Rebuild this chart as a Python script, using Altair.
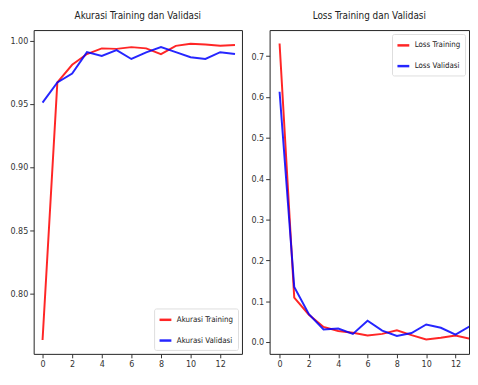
import altair as alt
import pandas as pd

epochs = list(range(14))
acc_train = [0.763, 0.967, 0.981, 0.9895, 0.994, 0.9936, 0.995, 0.994, 0.9895, 0.996, 0.9977, 0.997, 0.996, 0.9967]
acc_val = [0.951, 0.967, 0.974, 0.991, 0.988, 0.9926, 0.9856, 0.9908, 0.995, 0.991, 0.987, 0.9856, 0.991, 0.9895]
loss_train = [0.731, 0.109, 0.067, 0.037, 0.027, 0.0225, 0.016, 0.020, 0.029, 0.017, 0.0064, 0.0105, 0.016, 0.008]
loss_val = [0.613, 0.135, 0.068, 0.031, 0.033, 0.020, 0.052, 0.028, 0.015, 0.022, 0.043, 0.035, 0.018, 0.039]

acc_names = ["Akurasi Training", "Akurasi Validasi"]
loss_names = ["Loss Training", "Loss Validasi"]
x_ticks = [0, 2, 4, 6, 8, 10, 12]
acc_ticks = [0.80, 0.85, 0.90, 0.95, 1.00]
loss_ticks = [0.0, 0.1, 0.2, 0.3, 0.4, 0.5, 0.6, 0.7]

FONT = "DejaVu Sans Condensed, Roboto, sans-serif"

acc_df = pd.DataFrame({
    "epoch": epochs * 2,
    "value": acc_train + acc_val,
    "series": [acc_names[0]] * 14 + [acc_names[1]] * 14,
})
loss_df = pd.DataFrame({
    "epoch": epochs * 2,
    "value": loss_train + loss_val,
    "series": [loss_names[0]] * 14 + [loss_names[1]] * 14,
})

def axis(vals, fmt):
    return alt.Axis(values=vals, format=fmt, grid=False, domain=False, tickColor="#333",
                    tickSize=4, labelFont=FONT, labelFontSize=9, labelColor="#333",
                    labelPadding=2, title=None)

def panel(df, names, title, ydom, yticks, yfmt, xdom, width, orient):
    return alt.Chart(df, title=alt.TitleParams(title, font=FONT, fontSize=10, fontWeight="normal",
                                                color="#222", offset=9)).mark_line(
        strokeWidth=2, clip=True, opacity=0.85
    ).encode(
        x=alt.X("epoch:Q", scale=alt.Scale(domain=xdom, nice=False, zero=False), axis=axis(x_ticks, "d")),
        y=alt.Y("value:Q", scale=alt.Scale(domain=ydom, nice=False, zero=False), axis=axis(yticks, yfmt)),
        color=alt.Color("series:N", scale=alt.Scale(domain=names, range=["#ff0000", "#0000ff"]),
                        legend=alt.Legend(title=None, orient=orient, symbolType="stroke",
                                          symbolStrokeWidth=2.5, symbolSize=144, labelFont=FONT,
                                          labelFontSize=8, labelColor="#222", labelOffset=4,
                                          fillColor="white", strokeColor="#ddd", padding=4,
                                          cornerRadius=2, offset=4, rowPadding=8)),
    ).properties(width=width, height=328)

left = panel(acc_df, acc_names, "Akurasi Training dan Validasi", [0.752, 1.0085], acc_ticks, ".2f",
             [-0.6, 13.47], 211, "bottom-right")
right = panel(loss_df, loss_names, "Loss Training dan Validasi", [-0.029, 0.764], loss_ticks, ".1f",
              [-0.68, 12.92], 202, "top-right")

chart = alt.hconcat(left, right, spacing=7).resolve_scale(color="independent").configure_view(
    stroke="#222", strokeWidth=1
).properties(padding={"left": 1, "top": 0, "right": 0, "bottom": 0})

chart.save("out.html", embed_options={"renderer": "svg", "actions": False})
